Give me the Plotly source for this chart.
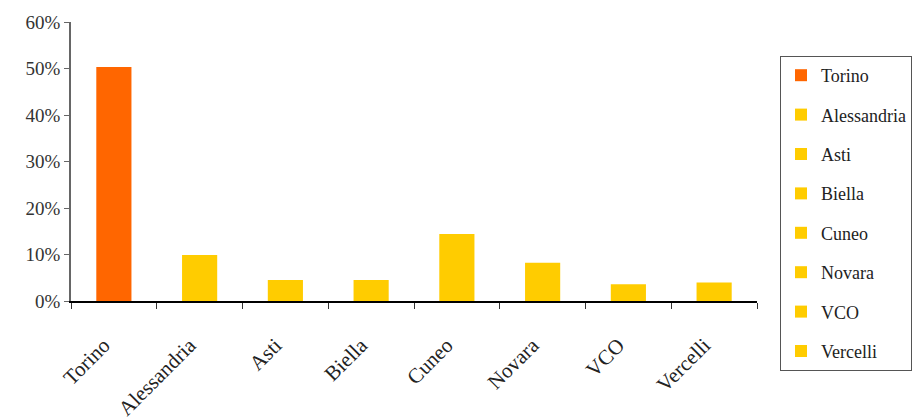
import plotly.graph_objects as go

PROVINCES = ['Torino', 'Alessandria', 'Asti', 'Biella', 'Cuneo', 'Novara', 'VCO', 'Vercelli']
SHARES = [0.503, 0.099, 0.045, 0.045, 0.144, 0.082, 0.036, 0.040]
COLORS = ['#FF6600', '#FFCC00', '#FFCC00', '#FFCC00', '#FFCC00', '#FFCC00', '#FFCC00', '#FFCC00']

FONT = 'Liberation Serif'
W, H = 913, 418

fig = go.Figure()
for name, val, col in zip(PROVINCES, SHARES, COLORS):
    fig.add_trace(go.Bar(
        x=[name], y=[val], name=name,
        marker=dict(color=col, line=dict(width=0)),
        width=0.41, legendgroup=name,
    ))

fig.update_layout(
    width=W, height=H,
    margin=dict(l=0, r=0, t=0, b=0),
    plot_bgcolor='white', paper_bgcolor='white',
    barmode='overlay',
    font=dict(family=FONT, size=19, color='#222'),
    showlegend=True,
    legend=dict(
        x=780 / W, xanchor='left', y=1 - 56 / H, yanchor='top',
        bordercolor='#555', borderwidth=1,
        font=dict(family=FONT, size=18, color='#222'),
        traceorder='grouped', tracegroupgap=13,
        itemwidth=30, maxheight=1.0,
    ),
)

fig.update_xaxes(
    domain=[71 / W, 757 / W],
    categoryorder='array', categoryarray=PROVINCES,
    showline=True, linecolor='black', linewidth=1.5,
    ticks='outside', ticklen=6, tickcolor='#333', tickson='boundaries',
    tickangle=-45, showgrid=False, automargin=False,
    ticklabelstandoff=22, ticklabelshift=-10,
    tickfont=dict(family=FONT, size=21, color='#222'),
)
fig.update_yaxes(
    domain=[1 - 301 / H, 1 - 22 / H],
    range=[0, 0.6], dtick=0.1, tickformat='.0%',
    showline=True, linecolor='#666', linewidth=1.5,
    ticks='outside', ticklen=5, tickcolor='#666',
    showgrid=False, zeroline=False, automargin=False,
    tickfont=dict(family=FONT, size=19, color='#333'),
)

fig.write_html('out.html', config={'displayModeBar': False},
               post_script="document.body.style.margin='0px';")
